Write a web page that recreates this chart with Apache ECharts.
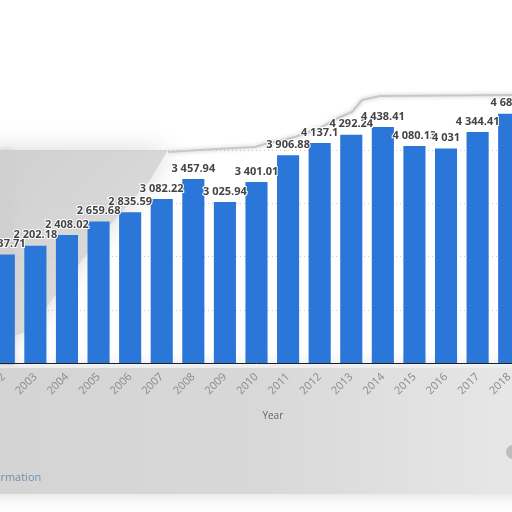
<!DOCTYPE html>
<html>
<head>
<meta charset="utf-8">
<script src="https://cdn.jsdelivr.net/npm/echarts@6/dist/echarts.min.js"></script>
<style>
html,body{margin:0;padding:0;width:512px;height:512px;overflow:hidden;background:#fff;}
#bg{position:absolute;left:0;top:0;width:512px;height:512px;}
#chart{position:absolute;left:-12.4px;top:0;width:536.7px;height:512px;}
</style>
</head>
<body>
<div id="bg"></div>
<div id="chart"></div>
<script>
var years = ['2002','2003','2004','2005','2006','2007','2008','2009','2010','2011','2012','2013','2014','2015','2016','2017','2018'];
var values = [2037.71, 2202.18, 2408.02, 2659.68, 2835.59, 3082.22, 3457.94, 3025.94, 3401.01, 3906.88, 4137.1, 4292.24, 4438.41, 4080.13, 4031, 4344.41, 4685.7];
var axisTitle = 'Year';
var footerText = 'rmation';

function fmt(v) {
  var s = String(v).split('.');
  var i = s[0].replace(/\B(?=(\d{3})+(?!\d))/g, ' ');
  return s.length > 1 ? i + '.' + s[1] : i;
}

// backdrop (blurred grey regions of the reference)
var bg = echarts.init(document.getElementById('bg'));
bg.setOption({
  animation: false,
  graphic: [
    { type: 'rect', shape: { x: -20, y: 368, width: 560, height: 126 },
      style: { fill: new echarts.graphic.LinearGradient(0, 0, 1, 0, [
        { offset: 0, color: '#d4d4d4' }, { offset: 0.5, color: '#d8d8d8' },
        { offset: 0.8, color: '#e2e2e2' }, { offset: 1, color: '#e8e8e8' }]),
        shadowBlur: 18, shadowColor: '#d8d8d8' } },
    { type: 'polygon', shape: { points: [[-20,150],[168,150],[150,180],[110,225],[70,275],[30,330],[-20,350]] },
      style: { fill: new echarts.graphic.LinearGradient(0, 0, 1, 1, [
        { offset: 0, color: '#cfcfcf' }, { offset: 1, color: '#e0e0e0' }]),
        shadowBlur: 25, shadowColor: '#d8d8d8' } },
    { type: 'rect', shape: { x: 0, y: 150, width: 14, height: 215 },
      style: { fill: '#d0d0d0', shadowBlur: 6, shadowColor: '#d0d0d0' } },
    { type: 'polyline', shape: { points: [[168,152],[200,150],[255,147],[265,144],[295,137],[320,128],[338,118],[352,112],[362,100],[380,96],[520,95]] },
      style: { stroke: '#c8c8c8', lineWidth: 2, fill: null, shadowBlur: 4, shadowColor: '#c0c0c0' } },
    { type: 'circle', shape: { cx: 513, cy: 452, r: 7 },
      style: { fill: '#bdbdbd' } }
  ]
});

var chart = echarts.init(document.getElementById('chart'));
chart.setOption({
  animation: false,
  grid: { left: 0, right: 0, top: 97, bottom: 149, containLabel: false, outerBoundsMode: 'none' },
  xAxis: {
    type: 'category',
    data: years,
    axisLine: { lineStyle: { color: '#222', width: 1 } },
    axisTick: { show: false },
    axisLabel: { rotate: 45, color: '#8a8a8a', fontSize: 11, margin: 12, fontFamily: 'Open Sans, sans-serif', interval: 0 }
  },
  yAxis: {
    type: 'value', min: 0, max: 5000, interval: 1000,
    axisLabel: { show: false },
    axisLine: { show: false }, axisTick: { show: false },
    splitLine: { showMaxLine: false, lineStyle: { color: '#c8c8c8', type: [1, 3] } }
  },
  series: [{
    type: 'bar',
    data: values,
    barWidth: '70%',
    itemStyle: { color: '#2a76d9' },
    label: {
      show: true, position: 'top', distance: 5,
      formatter: function (p) { return fmt(p.value); },
      color: '#444', fontSize: 11, fontWeight: 'bold',
      fontFamily: 'Open Sans, sans-serif',
      textBorderColor: '#fff', textBorderWidth: 2
    }
  }],
  graphic: [
    { type: 'text', left: 272 + 12.4 - 10, top: 411,
      style: { text: axisTitle, fill: '#666', fontSize: 10, fontFamily: 'Open Sans, sans-serif' } },
    { type: 'text', left: 12.4, top: 472,
      style: { text: footerText, fill: '#6b90ae', fontSize: 11, fontFamily: 'Open Sans, sans-serif' } }
  ]
});
</script>
</body>
</html>
